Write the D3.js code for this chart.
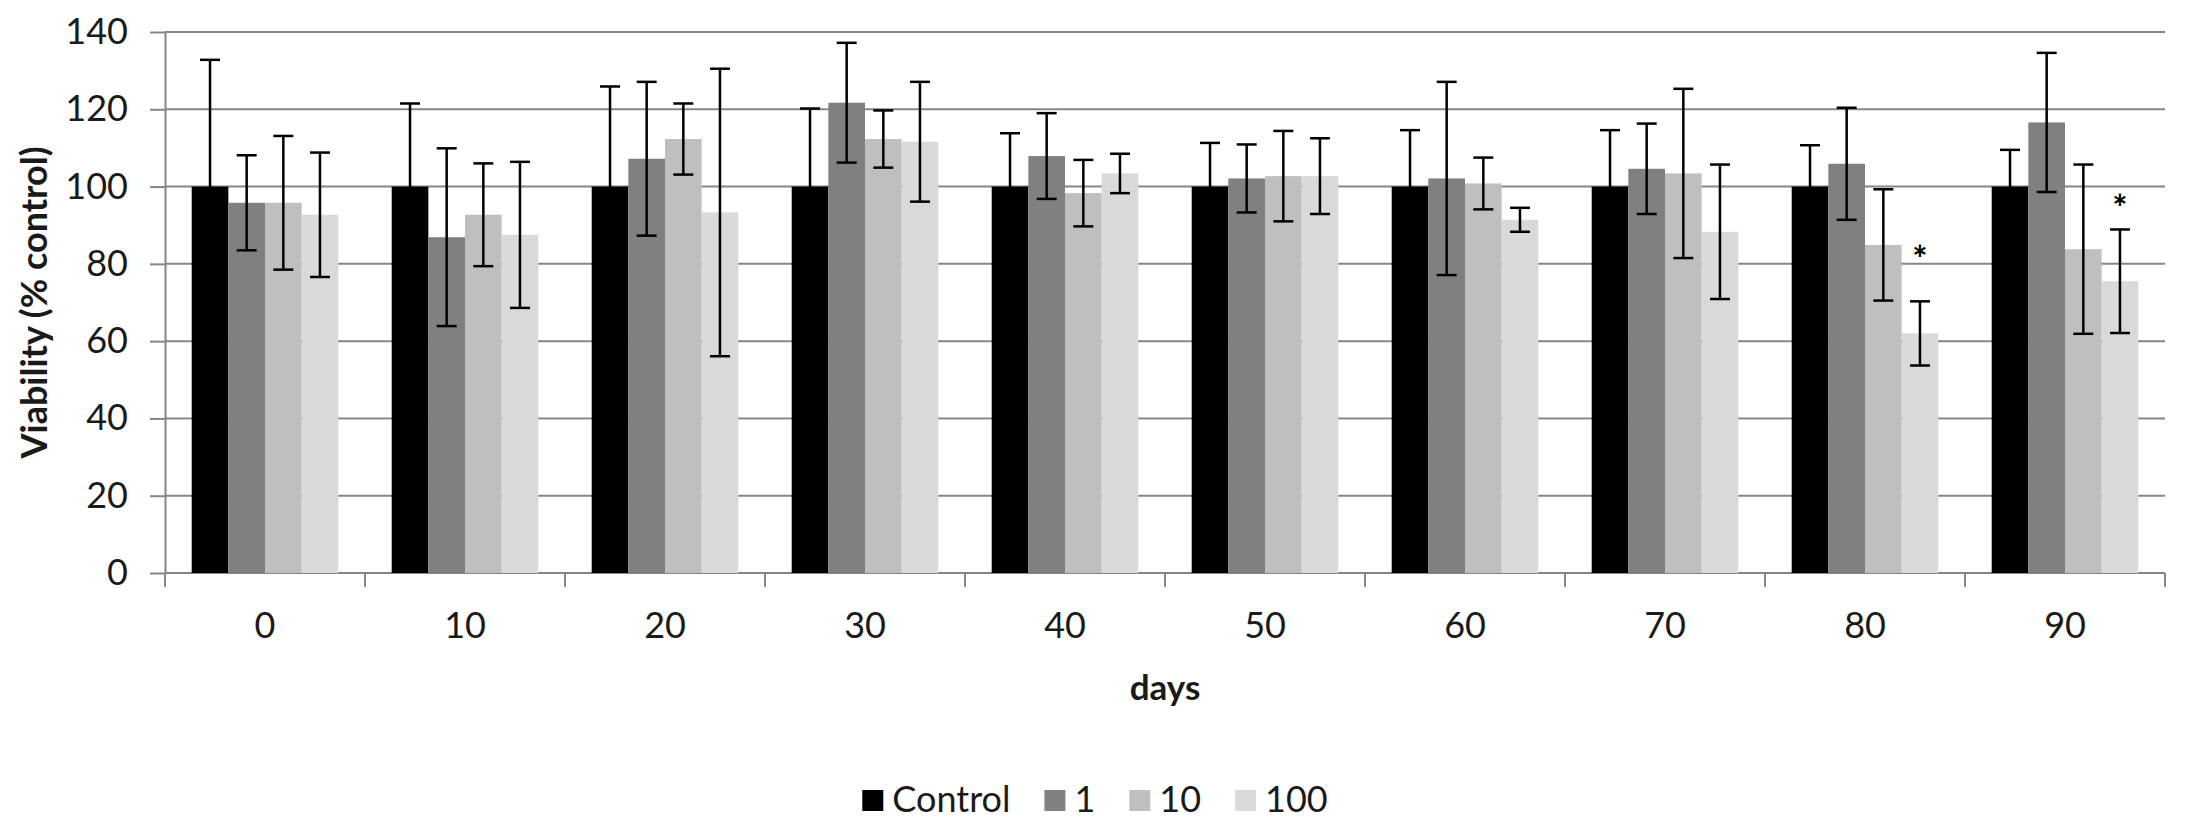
<!DOCTYPE html>
<html>
<head>
<meta charset="utf-8">
<script src="https://cdn.jsdelivr.net/npm/d3@7"></script>
<style>
  body { margin: 0; background: #fff; }
  svg { display: block; font-family: Lato, "Open Sans", sans-serif; }
</style>
</head>
<body>
<div id="chart"></div>
<script>
// x categories (days) and the dose series
var days = [0, 10, 20, 30, 40, 50, 60, 70, 80, 90];
var series = ['Control', '1', '10', '100'];

// mean viability (% control) per series
var control = [100, 100, 100, 100, 100, 100, 100, 100, 100, 100];
var dose1 = [95.8, 86.9, 107.2, 121.7, 107.9, 102.1, 102.1, 104.6, 105.9, 116.6];
var dose10 = [95.8, 92.7, 112.3, 112.3, 98.3, 102.7, 100.8, 103.4, 84.9, 83.8];
var dose100 = [92.7, 87.5, 93.3, 111.6, 103.4, 102.7, 91.4, 88.3, 62.0, 75.5];

// error bar half widths
var controlErr = [32.8, 21.5, 25.9, 20.2, 13.8, 11.3, 14.6, 14.6, 10.7, 9.5];
var dose1Err = [12.3, 23.0, 19.9, 15.5, 11.1, 8.8, 25.0, 11.7, 14.5, 18.0];
var dose10Err = [17.3, 13.3, 9.2, 7.4, 8.6, 11.7, 6.7, 21.9, 14.4, 21.9];
var dose100Err = [16.1, 18.9, 37.2, 15.5, 5.1, 9.8, 3.1, 17.4, 8.3, 13.4];

// significance marks (value = height of the asterisk)
var stars = [
  {day: 80, series: '100', value: 83},
  {day: 90, series: '100', value: 96.3}
];

var yTicks = [0, 20, 40, 60, 80, 100, 120, 140];

// note: "top" is taken by window.top, so plot* names
var width = 2190,
    height = 830,
    plotLeft = 165,
    plotRight = 2165,
    plotTop = 32,
    plotBottom = 573,
    gridColor = '#868686',
    textColor = '#1a1a1a';

var colors = {'Control': '#000000', '1': '#808080', '10': '#bfbfbf', '100': '#d9d9d9'};

// rows of {day, series, value, err}
var means = [control, dose1, dose10, dose100],
    errs = [controlErr, dose1Err, dose10Err, dose100Err];
var rows = [];
series.forEach(function(s, i) {
  days.forEach(function(d, j) {
    rows.push({day: d, series: s, value: means[i][j], err: errs[i][j]});
  });
});

var svg = d3.select('#chart').append('svg')
  .attr('width', width)
  .attr('height', height);

// scales
var x = d3.scaleBand().domain(days).range([plotLeft, plotRight])
  .paddingInner(0.267).paddingOuter(0.1335);
var xs = d3.scaleBand().domain(series).range([0, x.bandwidth()]);
var y = d3.scaleLinear().domain([0, 140]).range([plotBottom, plotTop]);

// gridlines
svg.append('g').selectAll('line')
  .data(yTicks)
  .join('line')
  .attr('x1', plotLeft).attr('x2', plotRight)
  .attr('y1', function(d) { return y(d); })
  .attr('y2', function(d) { return y(d); })
  .attr('stroke', gridColor)
  .attr('stroke-width', 2);

// y axis
var yAxis = svg.append('g')
  .attr('transform', 'translate(' + plotLeft + ',0)')
  .call(d3.axisLeft(y).tickValues(yTicks).tickSize(15).tickSizeOuter(0).tickPadding(22));
yAxis.select('.domain').attr('stroke', gridColor).attr('stroke-width', 2);
yAxis.selectAll('.tick line').attr('stroke', gridColor).attr('stroke-width', 2);
yAxis.selectAll('.tick text')
  .attr('fill', textColor)
  .style('font-size', '36px')
  .style('font-family', 'Lato, sans-serif');

// x axis labels
var xAxis = svg.append('g')
  .attr('transform', 'translate(0,' + plotBottom + ')')
  .call(d3.axisBottom(x).tickSize(0).tickPadding(39));
xAxis.select('.domain').remove();
xAxis.selectAll('.tick text')
  .attr('fill', textColor)
  .style('font-size', '36px')
  .style('font-family', 'Lato, sans-serif');

// category separators below the axis
var edges = days.map(function(d) { return x(d) - x.step() * x.paddingOuter(); });
edges.push(plotRight);
svg.append('g').selectAll('line')
  .data(edges)
  .join('line')
  .attr('x1', function(d) { return d; })
  .attr('x2', function(d) { return d; })
  .attr('y1', plotBottom)
  .attr('y2', plotBottom + 14)
  .attr('stroke', gridColor)
  .attr('stroke-width', 2);

// bars
svg.append('g').selectAll('rect')
  .data(rows)
  .join('rect')
  .attr('x', function(d) { return x(d.day) + xs(d.series); })
  .attr('width', xs.bandwidth())
  .attr('y', function(d) { return y(d.value); })
  .attr('height', function(d) { return y(0) - y(d.value); })
  .attr('fill', function(d) { return colors[d.series]; });

// error bars
var cap = 10;
var eb = svg.append('g')
  .attr('stroke', '#000')
  .attr('stroke-width', 2.5)
  .selectAll('g')
  .data(rows)
  .join('g')
  .attr('transform', function(d) {
    return 'translate(' + (x(d.day) + xs(d.series) + xs.bandwidth() / 2) + ',0)';
  });
eb.append('line')
  .attr('y1', function(d) { return y(d.value + d.err); })
  .attr('y2', function(d) { return y(d.value - d.err); });
eb.append('line')
  .attr('x1', -cap).attr('x2', cap)
  .attr('y1', function(d) { return y(d.value + d.err); })
  .attr('y2', function(d) { return y(d.value + d.err); });
eb.append('line')
  .attr('x1', -cap).attr('x2', cap)
  .attr('y1', function(d) { return y(d.value - d.err); })
  .attr('y2', function(d) { return y(d.value - d.err); });

// asterisks
svg.append('g').selectAll('text')
  .data(stars)
  .join('text')
  .attr('x', function(d) { return x(d.day) + xs(d.series) + xs.bandwidth() / 2; })
  .attr('y', function(d) { return y(d.value) + 20; })
  .attr('text-anchor', 'middle')
  .style('font-size', '36px')
  .style('font-weight', 'bold')
  .attr('fill', '#000')
  .text('*');

// axis titles
svg.append('text')
  .attr('transform', 'translate(33,' + (plotTop + plotBottom) / 2 + ') rotate(-90)')
  .attr('text-anchor', 'middle')
  .attr('dominant-baseline', 'central')
  .style('font-size', '36px')
  .style('font-weight', 'bold')
  .attr('fill', textColor)
  .text('Viability (% control)');

svg.append('text')
  .attr('x', (plotLeft + plotRight) / 2)
  .attr('y', 700)
  .attr('text-anchor', 'middle')
  .style('font-size', '35px')
  .style('font-weight', 'bold')
  .attr('fill', textColor)
  .text('days');

// legend, centred in the chart area
var legend = svg.append('g');
var lx = 0;
series.forEach(function(s) {
  var item = legend.append('g').attr('transform', 'translate(' + lx + ',0)');
  item.append('rect')
    .attr('x', 0).attr('y', 790)
    .attr('width', 21).attr('height', 21)
    .attr('fill', colors[s]);
  var t = item.append('text')
    .attr('x', 30).attr('y', 812)
    .style('font-size', '36px')
    .attr('fill', textColor)
    .text(s);
  lx += 30 + t.node().getComputedTextLength() + 34;
});
lx -= 34;
legend.attr('transform', 'translate(' + (width / 2 - lx / 2) + ',0)');
</script>
</body>
</html>
